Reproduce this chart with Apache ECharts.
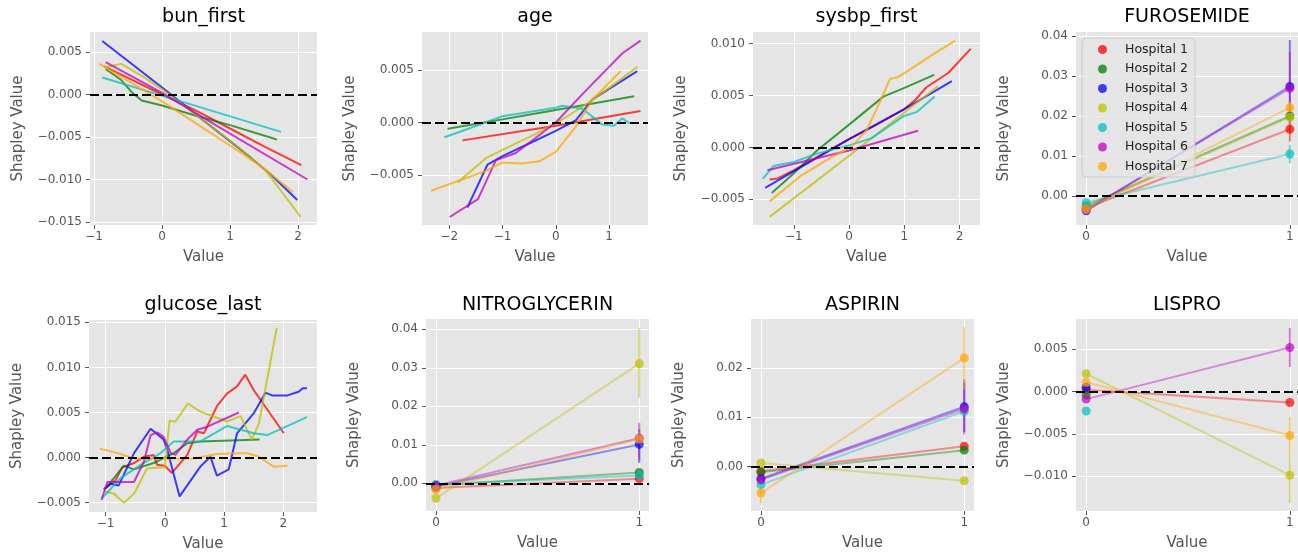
<!DOCTYPE html>
<html>
<head>
<meta charset="utf-8">
<script src="https://cdn.jsdelivr.net/npm/echarts@6.0.0/dist/echarts.min.js"></script>
<style>
  html, body { margin: 0; padding: 0; background: #fff; }
  #chart { width: 1298px; height: 559px; }
</style>
</head>
<body>
<div id="chart"></div>
<script>
const hospitals = ['Hospital 1', 'Hospital 2', 'Hospital 3', 'Hospital 4', 'Hospital 5', 'Hospital 6', 'Hospital 7'];

// continuous features: one [value, shapley] list per hospital (H1..H7)
const bunFirst = [
  [[-0.85, 0.0033], [0, 0.0000], [0.5, -0.0019], [1.0, -0.0040], [1.5, -0.0061], [2.05, -0.0083]],
  [[-0.83, 0.0030], [-0.6, 0.0017], [-0.45, 0.0003], [-0.3, -0.0007], [0, -0.0013], [0.5, -0.0025], [1.0, -0.0036], [1.69, -0.0053]],
  [[-0.88, 0.0063], [0.1, 0.0002], [0.6, -0.0030], [1.0, -0.0055], [1.3, -0.0074], [1.6, -0.0094], [1.99, -0.0124]],
  [[-0.85, 0.0032], [-0.6, 0.0036], [-0.3, 0.0022], [0, 0.0006], [0.5, -0.0024], [1.0, -0.0054], [1.5, -0.0087], [2.04, -0.0144]],
  [[-0.88, 0.0020], [0.4, -0.0011], [1.75, -0.0044]],
  [[-0.83, 0.0038], [0, 0.0002], [1.0, -0.0046], [2.14, -0.0100]],
  [[-0.92, 0.0036], [-0.5, 0.0016], [0, -0.0008], [0.5, -0.0034], [1.0, -0.0060], [1.5, -0.0087], [1.93, -0.0115]]
];
const age = [
  [[-1.75, -0.0017], [0, -0.0003], [1.59, 0.0011]],
  [[-2.03, -0.0006], [-1.0, 0.0003], [0, 0.0012], [1.47, 0.0025]],
  [[-1.66, -0.0081], [-1.28, -0.0040], [-1.0, -0.0032], [-0.5, -0.0020], [0, -0.0008], [0.375, 0.0002], [0.69, 0.0022], [1.0, 0.0032], [1.53, 0.0049]],
  [[-1.84, -0.0057], [-1.31, -0.0034], [-1.0, -0.0026], [-0.5, -0.0014], [0, -0.0001], [0.5, 0.0015], [1.0, 0.0033], [1.53, 0.0053]],
  [[-2.09, -0.0014], [-1.81, -0.0009], [-1.0, 0.0006], [0, 0.0014], [0.125, 0.0016], [0.5, 0.0013], [0.875, -0.0002], [1.09, -0.0003], [1.25, 0.0004], [1.39, -0.0001]],
  [[-1.99, -0.0090], [-1.46, -0.0073], [-1.125, -0.0036], [-0.75, -0.0029], [0, 0.0000], [0.5, 0.0027], [1.0, 0.0053], [1.25, 0.0066], [1.59, 0.0078]],
  [[-2.34, -0.0065], [-1.31, -0.0046], [-1.0, -0.0038], [-0.62, -0.0039], [-0.31, -0.0037], [0, -0.0028], [0.375, -0.0004], [0.69, 0.0022], [1.22, 0.0049]]
];
const sysbpFirst = [
  [[-1.44, -0.0031], [-1.3, -0.0030], [-1.0, -0.0022], [-0.5, -0.0007], [0, 0.0008], [0.5, 0.0022], [1.0, 0.0037], [1.2, 0.0046], [1.4, 0.0058], [1.8, 0.0072], [2.2, 0.0095]],
  [[-1.40, -0.0044], [-1.0, -0.0025], [-0.58, -0.0003], [0, 0.0022], [0.62, 0.0049], [0.98, 0.0057], [1.54, 0.0070]],
  [[-1.52, -0.0039], [0, 0.0008], [1.0, 0.0037], [1.86, 0.0064]],
  [[-1.44, -0.0067], [0, -0.0008], [1.61, 0.0059]],
  [[-1.56, -0.0030], [-1.37, -0.0018], [-1.0, -0.0014], [-0.58, -0.0006], [0, 0.0002], [0.41, 0.0009], [0.98, 0.0030], [1.22, 0.0034], [1.55, 0.0049]],
  [[-1.48, -0.0022], [0, -0.0003], [1.25, 0.0016]],
  [[-1.44, -0.0052], [-0.89, -0.0028], [-0.4, -0.0012], [0.05, 0.0001], [0.32, 0.0017], [0.55, 0.0043], [0.74, 0.0066], [0.89, 0.0068], [1.1, 0.0075], [1.5, 0.0089], [1.92, 0.0103]]
];
const glucoseLast = [
  [[-1.0, -0.0034], [-0.83, -0.0025], [-0.72, -0.0011], [-0.52, -0.0006], [-0.35, 0.0001], [-0.19, 0.0003], [-0.13, -0.0008], [0, -0.0009], [0.12, -0.0017], [0.38, 0.0003], [0.55, 0.0029], [0.66, 0.0027], [0.88, 0.0057], [1.05, 0.0071], [1.22, 0.0079], [1.36, 0.0092], [1.5, 0.0075], [2.01, 0.0027]],
  [[-1.0, -0.0034], [-0.69, -0.0009], [-0.52, -0.0013], [-0.19, -0.0006], [0.15, 0.0005], [0.38, 0.0016], [0.6, 0.0018], [1.6, 0.0020]],
  [[-1.03, -0.0035], [-0.92, -0.0029], [-0.78, -0.0031], [-0.52, 0.0005], [-0.24, 0.0032], [-0.02, 0.0020], [0.04, 0.0009], [0.25, -0.0043], [0.6, -0.0010], [0.77, 0.0001], [0.88, -0.0020], [1.08, -0.0013], [1.22, 0.0027], [1.5, 0.0049], [1.7, 0.0072], [1.81, 0.0069], [2.07, 0.0069], [2.26, 0.0073], [2.33, 0.0077], [2.40, 0.0077]],
  [[-1.03, -0.0037], [-0.86, -0.0040], [-0.69, -0.0050], [-0.52, -0.0040], [-0.3, -0.0012], [-0.1, -0.0011], [0, -0.0011], [0.08, 0.0041], [0.18, 0.0040], [0.39, 0.0060], [0.6, 0.0051], [1.05, 0.0040], [1.28, 0.0046], [1.47, 0.0020], [1.59, 0.0038], [1.89, 0.0144]],
  [[-1.06, -0.0045], [-0.75, -0.0023], [-0.41, -0.0008], [-0.07, 0.0005], [0.15, 0.0018], [0.6, 0.0018], [1.05, 0.0035], [1.5, 0.0027], [1.73, 0.0025], [2.4, 0.0045]],
  [[-1.07, -0.0047], [-0.97, -0.0027], [-0.78, -0.0027], [-0.52, -0.0027], [-0.35, -0.0004], [-0.24, 0.0025], [-0.13, 0.0028], [-0.02, 0.0023], [0.1, 0.0005], [0.18, 0.0003], [0.38, 0.0020], [0.55, 0.0031], [0.71, 0.0034], [1.25, 0.0050]],
  [[-1.1, 0.0010], [-0.8, 0.0005], [-0.52, -0.0001], [0.04, -0.0001], [0.49, -0.0001], [0.88, 0.0004], [1.39, 0.0005], [1.59, 0.0001], [1.84, -0.0010], [2.07, -0.0009]]
];

// binary features: mean shapley at value 0 and 1 (H1..H7), error bars as [low, high]
const furosemideAt0 = [-0.0030, -0.0025, -0.0037, -0.0028, -0.0017, -0.0034, -0.0033];
const furosemideAt1 = [0.0167, 0.0200, 0.0274, 0.0197, 0.0105, 0.0269, 0.0221];
const furosemideErr1 = [[0.0136, 0.0190], [0.0185, 0.0215], [0.0200, 0.0390], [0.0180, 0.0215], [0.0082, 0.0128], [0.0160, 0.0360], [0.0150, 0.0235]];

const nitroAt0 = [-0.0012, -0.0005, -0.0008, -0.0039, -0.0003, -0.0006, -0.0016];
const nitroAt1 = [0.0012, 0.0028, 0.0101, 0.0311, 0.0020, 0.0117, 0.0115];
const nitroErr1 = [null, null, [0.0053, 0.0140], [0.0222, 0.0404], null, [0.0060, 0.0157], [0.0100, 0.0135]];

const aspirinAt0 = [-0.0010, -0.0012, -0.0025, 0.0007, -0.0037, -0.0027, -0.0054];
const aspirinAt1 = [0.0041, 0.0033, 0.0121, -0.0029, 0.0112, 0.0117, 0.0220];
const aspirinErr0 = [null, null, null, null, null, null, [-0.0075, -0.0041]];
const aspirinErr1 = [null, null, [0.0070, 0.0170], null, [0.0095, 0.0130], [0.0065, 0.0177], [0.0156, 0.0282]];

const lisproAt0 = [0.0002, -0.0004, 0.0005, 0.0021, -0.0023, -0.0009, 0.0011];
const lisproAt1 = [-0.0013, null, null, -0.0099, null, 0.0052, -0.0052];
const lisproErr1 = [null, null, null, [-0.0132, -0.0073], null, [0.0029, 0.0075], [-0.0073, -0.0030]];

// tick labels
const xTicks = [[-1, 0, 1, 2], [-2, -1, 0, 1], [-1, 0, 1, 2], [0, 1], [-1, 0, 1, 2], [0, 1], [0, 1], [0, 1]];
const yTicks = [
  [-0.015, -0.010, -0.005, 0, 0.005],
  [-0.005, 0, 0.005],
  [-0.005, 0, 0.005, 0.010],
  [0, 0.01, 0.02, 0.03, 0.04],
  [-0.005, 0, 0.005, 0.010, 0.015],
  [0, 0.01, 0.02, 0.03, 0.04],
  [0, 0.01, 0.02],
  [-0.010, -0.005, 0, 0.005]
];
const yDecimals = [3, 3, 3, 2, 3, 2, 2, 3];
const titlesText = ['bun_first', 'age', 'sysbp_first', 'FUROSEMIDE', 'glucose_last', 'NITROGLYCERIN', 'ASPIRIN', 'LISPRO'];

const colors = ['#FF0000', '#008000', '#0000FF', '#BFBF00', '#00BFBF', '#BF00BF', '#FFA500'];

const layout = [
  { left: 90, top: 32, width: 227, height: 193 },
  { left: 422, top: 32, width: 226, height: 193 },
  { left: 753, top: 32, width: 227, height: 193 },
  { left: 1076, top: 32, width: 222, height: 193 },
  { left: 89, top: 320, width: 228, height: 192 },
  { left: 426, top: 319, width: 223, height: 192 },
  { left: 751, top: 319, width: 223, height: 192 },
  { left: 1076, top: 319, width: 222, height: 192 }
];
const xRanges = [[-1.06, 2.28], [-2.51, 1.73], [-1.74, 2.37], [-0.05, 1.04], [-1.28, 2.57], [-0.049, 1.048], [-0.049, 1.048], [-0.05, 1.04]];
const yRanges = [[-0.01535, 0.00735], [-0.00976, 0.00862], [-0.00748, 0.01113], [-0.00725, 0.041], [-0.00603, 0.01526], [-0.0072, 0.04268], [-0.00904, 0.0299], [-0.01414, 0.00858]];

const panels = [
  { kind: 'curve', lines: bunFirst },
  { kind: 'curve', lines: age },
  { kind: 'curve', lines: sysbpFirst },
  { kind: 'binary', at0: furosemideAt0, at1: furosemideAt1, err1: furosemideErr1 },
  { kind: 'curve', lines: glucoseLast },
  { kind: 'binary', at0: nitroAt0, at1: nitroAt1, err1: nitroErr1 },
  { kind: 'binary', at0: aspirinAt0, at1: aspirinAt1, err0: aspirinErr0, err1: aspirinErr1 },
  { kind: 'binary', at0: lisproAt0, at1: lisproAt1, err1: lisproErr1 }
];

const fmt = d => v => (v < 0 ? '\u2212' : '') + Math.abs(v).toFixed(d);

const zeroLine = {
  silent: true,
  symbol: 'none',
  label: { show: false },
  lineStyle: { color: '#000', type: [9, 4], width: 2.2, opacity: 1 },
  emphasis: { disabled: true },
  data: [{ yAxis: 0 }]
};

const grids = [], xAxes = [], yAxes = [], titles = [], series = [];

panels.forEach((p, i) => {
  const g = layout[i];
  grids.push(Object.assign({ show: true, backgroundColor: '#E5E5E5', borderWidth: 0 }, g));
  titles.push({
    text: titlesText[i],
    left: g.left + g.width / 2,
    top: i < 4 ? 8 : 296,
    textAlign: 'center',
    padding: 0,
    textStyle: { fontSize: 19, fontWeight: 'normal', color: '#000', fontFamily: 'DejaVu Sans' }
  });
  xAxes.push({
    type: 'value', gridIndex: i, min: xRanges[i][0], max: xRanges[i][1],
    name: 'Value', nameLocation: 'middle', nameGap: 25,
    nameTextStyle: { fontSize: 15, color: '#555' },
    axisLine: { show: false, onZero: false },
    axisTick: { show: true, length: 4, lineStyle: { color: '#555' }, customValues: xTicks[i] },
    axisLabel: { customValues: xTicks[i], formatter: fmt(0), color: '#555', fontSize: 12, margin: 6 },
    splitLine: { show: true, lineStyle: { color: '#fff', width: 1 } }
  });
  yAxes.push({
    type: 'value', gridIndex: i, min: yRanges[i][0], max: yRanges[i][1],
    name: 'Shapley Value', nameLocation: 'middle', nameGap: 64,
    nameTextStyle: { fontSize: 15, color: '#555' },
    axisLine: { show: false, onZero: false },
    axisTick: { show: true, length: 4, lineStyle: { color: '#555' }, customValues: yTicks[i] },
    axisLabel: { customValues: yTicks[i], formatter: fmt(yDecimals[i]), color: '#555', fontSize: 12, margin: 8 },
    splitLine: { show: true, lineStyle: { color: '#fff', width: 1 } }
  });

  if (p.kind === 'curve') {
    p.lines.forEach((pts, h) => {
      series.push({
        type: 'line', name: hospitals[h], xAxisIndex: i, yAxisIndex: i,
        data: pts, showSymbol: false, symbol: 'none', silent: true,
        lineStyle: { color: colors[h], width: 2, opacity: 0.75 },
        itemStyle: { color: colors[h] },
        markLine: h === 0 ? zeroLine : undefined
      });
    });
  } else {
    hospitals.forEach((name, h) => {
      const errs = [];
      if (p.err0 && p.err0[h]) errs.push([0, p.err0[h][0], p.err0[h][1]]);
      if (p.err1[h]) errs.push([1, p.err1[h][0], p.err1[h][1]]);
      if (errs.length) {
        series.push({
          type: 'custom', name, xAxisIndex: i, yAxisIndex: i, silent: true, z: 1,
          data: errs,
          renderItem: (params, api) => {
            const a = api.coord([api.value(0), api.value(1)]);
            const b = api.coord([api.value(0), api.value(2)]);
            return {
              type: 'line',
              shape: { x1: a[0], y1: a[1], x2: b[0], y2: b[1] },
              style: { stroke: colors[h], lineWidth: 2, opacity: 0.5 }
            };
          }
        });
      }
      series.push({
        type: 'line', name, xAxisIndex: i, yAxisIndex: i, silent: true,
        data: [[0, p.at0[h]], [1, p.at1[h]]],
        symbol: 'circle', symbolSize: 9, showSymbol: true,
        lineStyle: { color: colors[h], width: 2, opacity: 0.4 },
        itemStyle: { color: colors[h], opacity: 0.7 },
        markLine: h === 0 ? zeroLine : undefined
      });
    });
  }
});

const chart = echarts.init(document.getElementById('chart'));
chart.setOption({
  animation: false,
  backgroundColor: '#fff',
  textStyle: { fontFamily: 'DejaVu Sans' },
  title: titles,
  grid: grids,
  xAxis: xAxes,
  yAxis: yAxes,
  legend: {
    data: hospitals,
    orient: 'vertical',
    left: 1082, top: 38,
    icon: 'circle',
    itemWidth: 9, itemHeight: 9, itemGap: 6.5,
    padding: [5, 7, 4, 16],
    backgroundColor: 'rgba(229,229,229,0.8)',
    borderColor: '#cccccc', borderWidth: 1, borderRadius: 4,
    itemStyle: { opacity: 0.75 },
    textStyle: { fontSize: 12.5, color: '#222', padding: [0, 0, 0, 13] }
  },
  series: series
});
</script>
</body>
</html>
